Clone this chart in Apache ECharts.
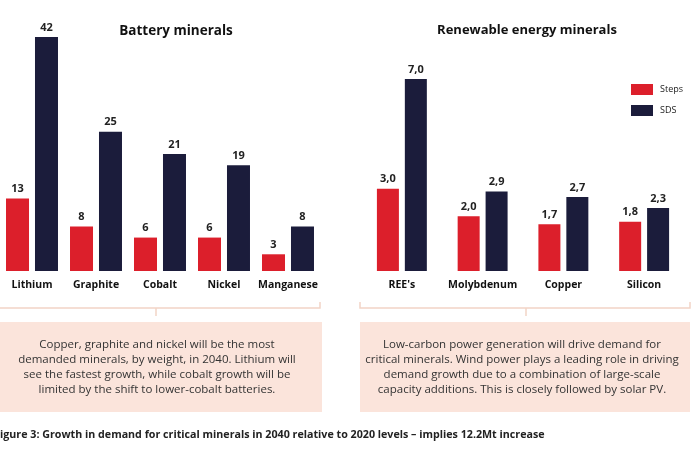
<!DOCTYPE html>
<html><head><meta charset="utf-8">
<script src="https://cdn.jsdelivr.net/npm/echarts@6/dist/echarts.min.js"></script>
<style>html,body{margin:0;padding:0;background:#fff}#c{width:700px;height:450px}</style>
</head><body><div id="c"></div>
<script>
var batteryCats = ['Lithium', 'Graphite', 'Cobalt', 'Nickel', 'Manganese'];
var batterySteps = [13, 8, 6, 6, 3];
var batterySDS = [42, 25, 21, 19, 8];
var renewCats = ["REE's", 'Molybdenum', 'Copper', 'Silicon'];
var renewSteps = [3.0, 2.0, 1.7, 1.8];
var renewSDS = [7.0, 2.9, 2.7, 2.3];
var seriesNames = ['Steps', 'SDS'];

var RED = '#dc1f2b', NAVY = '#1b1c3b', FONT = '"Open Sans", "Noto Sans", sans-serif';
var chart = echarts.init(document.getElementById('c'));
var lbl = {show: true, position: 'top', distance: 4, color: '#222', fontWeight: 'bold', fontSize: 11, fontFamily: FONT};
var lblComma = Object.assign({}, lbl, {formatter: function (p) { return p.value.toFixed(1).replace('.', ','); }});
var xCommon = {type: 'category', axisLine: {show: false}, axisTick: {show: false},
  axisLabel: {color: '#111', fontWeight: 'bold', fontSize: 10.5, fontFamily: FONT, margin: 9, interval: 0}};
var yCommon = {type: 'value', min: 0, show: false, splitLine: {show: false}};

chart.setOption({
  backgroundColor: '#fff',
  animation: false,
  textStyle: {fontFamily: FONT},
  title: [
    {text: 'Battery minerals', left: 171, top: 19, textAlign: 'center', textStyle: {fontSize: 13.5, fontWeight: 'bold', color: '#111', fontFamily: FONT}},
    {text: 'Renewable energy minerals', left: 522, top: 19, textAlign: 'center', textStyle: {fontSize: 13, fontWeight: 'bold', color: '#111', fontFamily: FONT}}
  ],
  legend: {data: seriesNames, orient: 'vertical', left: 626, top: 79, itemWidth: 22, itemHeight: 11, itemGap: 10, icon: 'rect',
    textStyle: {fontSize: 9, color: '#222', fontFamily: FONT, padding: [0, 0, 0, 2]}},
  grid: [
    {left: -6, width: 326, top: 37, bottom: 179},
    {left: 361.5, width: 323, top: 79, bottom: 179}
  ],
  xAxis: [
    Object.assign({gridIndex: 0, data: batteryCats}, xCommon),
    Object.assign({gridIndex: 1, data: renewCats}, xCommon)
  ],
  yAxis: [
    Object.assign({gridIndex: 0, max: 42}, yCommon),
    Object.assign({gridIndex: 1, max: 7}, yCommon)
  ],
  series: [
    {name: seriesNames[0], type: 'bar', xAxisIndex: 0, yAxisIndex: 0, data: batterySteps, barWidth: 23, barGap: '26%', itemStyle: {color: RED}, label: lbl},
    {name: seriesNames[1], type: 'bar', xAxisIndex: 0, yAxisIndex: 0, data: batterySDS, barWidth: 23, barGap: '26%', itemStyle: {color: NAVY}, label: lbl},
    {name: seriesNames[0], type: 'bar', xAxisIndex: 1, yAxisIndex: 1, data: renewSteps, barWidth: 22, barGap: '27%', itemStyle: {color: RED}, label: lblComma},
    {name: seriesNames[1], type: 'bar', xAxisIndex: 1, yAxisIndex: 1, data: renewSDS, barWidth: 22, barGap: '27%', itemStyle: {color: NAVY}, label: lblComma}
  ],
  graphic: [
    {type: 'polyline', shape: {points: [[0, 308], [320, 308], [320, 302]]}, style: {stroke: '#f2d4c6', lineWidth: 1.5, fill: null}},
    {type: 'line', shape: {x1: 156, y1: 308, x2: 156, y2: 316}, style: {stroke: '#f2d4c6', lineWidth: 1.5}},
    {type: 'polyline', shape: {points: [[360, 302], [360, 308], [690, 308], [690, 302]]}, style: {stroke: '#f2d4c6', lineWidth: 1.5, fill: null}},
    {type: 'line', shape: {x1: 526, y1: 308, x2: 526, y2: 316}, style: {stroke: '#f2d4c6', lineWidth: 1.5}},
    {type: 'rect', shape: {x: 0, y: 322, width: 322, height: 90}, style: {fill: '#fbe4db'}},
    {type: 'rect', shape: {x: 360, y: 322, width: 330, height: 90}, style: {fill: '#fbe4db'}},
    {type: 'text', x: 157, y: 367, style: {text: 'Copper, graphite and nickel will be the most\ndemanded minerals, by weight, in 2040. Lithium will\nsee the fastest growth, while cobalt growth will be\nlimited by the shift to lower-cobalt batteries.',
      textAlign: 'center', textVerticalAlign: 'middle', align: 'center', verticalAlign: 'middle', fontSize: 11.5, lineHeight: 15, fill: '#333', fontFamily: FONT}},
    {type: 'text', x: 522, y: 367, style: {text: 'Low-carbon power generation will drive demand for\ncritical minerals. Wind power plays a leading role in driving\ndemand growth due to a combination of large-scale\ncapacity additions. This is closely followed by solar PV.',
      textAlign: 'center', textVerticalAlign: 'middle', align: 'center', verticalAlign: 'middle', fontSize: 11.5, lineHeight: 15, fill: '#333', fontFamily: FONT}},
    {type: 'text', x: 0, y: 435, style: {text: 'igure 3: Growth in demand for critical minerals in 2040 relative to 2020 levels \u2013 implies 12.2Mt increase',
      textAlign: 'left', textVerticalAlign: 'middle', align: 'left', verticalAlign: 'middle', fontSize: 10.7, fontWeight: 'bold', fill: '#222', fontFamily: FONT}}
  ]
});
</script></body></html>
